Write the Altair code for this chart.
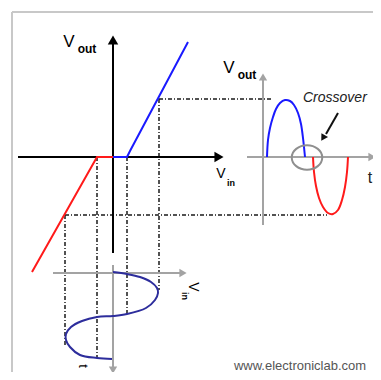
import altair as alt
import pandas as pd

# ---------------- data (diagram coordinates, y grows downward) ----------------
# outer frame
frame_x = [12, 12]
frame_y = [12, 12]
frame_x2 = [381, 12]
frame_y2 = [12, 380]

# transfer characteristic axes (black)
tax_x = [18, 113]
tax_y = [157, 253]
tax_x2 = [216, 113]
tax_y2 = [157, 44]

# input-sine axes and output-wave axes (gray)
gax_x = [53, 113, 247, 263]
gax_y = [273, 265, 157, 225]
gax_x2 = [182, 113, 370, 263]
gax_y2 = [273, 368, 157, 80]

# arrow heads
black_head_x = [113, 219]
black_head_y = [40, 157]
black_head_dir = ["up", "right"]
gray_head_x = [183, 113, 372, 263]
gray_head_y = [273, 370, 157, 77]
gray_head_dir = ["right", "down", "right", "up"]

# projection lines (dash-dot)
proj_x = [65, 97, 127, 159, 159, 65]
proj_y = [215, 157, 157, 99, 99, 215]
proj_x2 = [65, 97, 127, 159, 273, 327]
proj_y2 = [345, 357, 315, 290, 99, 215]

# transfer curve: upper (blue) and lower (red) transistor
tr_blue_x = [113, 127, 130, 188]
tr_blue_y = [157, 157, 151, 42]
tr_red_x = [113, 97, 32]
tr_red_y = [157, 157, 272]

# input sine (time runs downward)
sin_x = [113, 127, 140, 151, 157, 158, 155, 146, 127, 113, 97, 82, 71, 66, 66, 70, 80, 97, 112]
sin_y = [272, 274, 277, 282, 288, 293, 300, 308, 314, 316, 317, 321, 327, 334, 340, 347, 355, 358, 359]

# output half waves
out_blue_x = [267, 268, 270, 273, 276, 280, 285, 290, 294, 298, 301, 303, 305]
out_blue_y = [157, 140, 128, 117, 109, 103, 100, 101, 105, 113, 124, 138, 157]
out_red_x = [313, 314, 316, 319, 323, 328, 333, 338, 342, 345, 347, 348]
out_red_y = [157, 172, 186, 198, 207, 213, 214, 210, 200, 187, 172, 157]

# crossover marker
circle_x = [307]
circle_y = [157.5]
pointer_x = [338, 326]
pointer_y = [113, 134]
pointer_head_x = [323]
pointer_head_y = [138]

# labels
big_v_text = ["V", "V"]
big_v_x = [69, 229]
big_v_y = [42, 68]
sub_out_text = ["out", "out"]
sub_out_x = [87, 247]
sub_out_y = [49, 75]
vin_v_x = [221]
vin_v_y = [174]
vin_sub_x = [231]
vin_sub_y = [183]
rot_v_x = [193]
rot_v_y = [287]
rot_sub_x = [185]
rot_sub_y = [296]
t_text = ["t"]
t_x = [370]
t_y = [178]
rot_t_x = [83]
rot_t_y = [366]
cross_text = ["Crossover"]
cross_x = [303]
cross_y = [98]
site_text = ["www.electroniclab.com"]
site_x = [300]
site_y = [366]

# ---------------- chart ----------------
W, H = 365, 364
xs = alt.Scale(domain=[8, 8 + W], nice=False, zero=False)
ys = alt.Scale(domain=[8, 8 + H], nice=False, zero=False, reverse=True)
X = alt.X("x:Q", scale=xs, axis=None)
Y = alt.Y("y:Q", scale=ys, axis=None)
X2 = alt.X2("x2:Q")
Y2 = alt.Y2("y2:Q")

dir_scale = alt.Scale(domain=["up", "right", "down"],
                      range=["triangle-up", "triangle-right", "triangle-down"])


def seg(xa, ya, xb, yb):
    return pd.DataFrame({"x": xa, "y": ya, "x2": xb, "y2": yb})


def pts(xa, ya, **extra):
    d = {"x": xa, "y": ya, "i": list(range(len(xa)))}
    d.update(extra)
    return pd.DataFrame(d)


frame = alt.Chart(seg(frame_x, frame_y, frame_x2, frame_y2)).mark_rule(
    color="#c8c8c8", strokeWidth=2).encode(x=X, y=Y, x2=X2, y2=Y2)

proj = alt.Chart(seg(proj_x, proj_y, proj_x2, proj_y2)).mark_rule(
    color="#1a1a1a", strokeWidth=1.5, strokeDash=[4, 2, 1, 2]).encode(x=X, y=Y, x2=X2, y2=Y2)

gaxes = alt.Chart(seg(gax_x, gax_y, gax_x2, gax_y2)).mark_rule(
    color="#a3a3a3", strokeWidth=2).encode(x=X, y=Y, x2=X2, y2=Y2)

taxes = alt.Chart(seg(tax_x, tax_y, tax_x2, tax_y2)).mark_rule(
    color="#000000", strokeWidth=2).encode(x=X, y=Y, x2=X2, y2=Y2)

bheads = alt.Chart(pts(black_head_x, black_head_y, d=black_head_dir)).mark_point(
    filled=True, color="#000000", size=110, opacity=1).encode(
    x=X, y=Y, shape=alt.Shape("d:N", scale=dir_scale, legend=None))

gheads = alt.Chart(pts(gray_head_x, gray_head_y, d=gray_head_dir)).mark_point(
    filled=True, color="#a3a3a3", size=70, opacity=1).encode(
    x=X, y=Y, shape=alt.Shape("d:N", scale=dir_scale, legend=None))


def straight(xa, ya, col):
    return alt.Chart(pts(xa, ya)).mark_line(color=col, strokeWidth=2).encode(
        x=X, y=Y, order="i:Q")


def smooth(xa, ya, col, interp):
    return alt.Chart(pts(xa, ya)).mark_line(color=col, strokeWidth=2, interpolate=interp).encode(
        x=X, y=Y, order="i:Q")


trb = straight(tr_blue_x, tr_blue_y, "#1a1aff")
trr = straight(tr_red_x, tr_red_y, "#ff1a1a")
sine = smooth(sin_x, sin_y, "#2d2d9c", "catmull-rom")
ob = smooth(out_blue_x, out_blue_y, "#1a1aff", "catmull-rom")
orr = smooth(out_red_x, out_red_y, "#ff1a1a", "catmull-rom")

circ = alt.Chart(pts(circle_x, circle_y)).mark_point(
    shape="M -1 0 A 1 0.8 0 1 1 1 0 A 1 0.8 0 1 1 -1 0 Z",
    size=930, color="#8f8f8f", strokeWidth=2, filled=False, opacity=1).encode(x=X, y=Y)

pointer = straight(pointer_x, pointer_y, "#111111")
phead = alt.Chart(pts(pointer_head_x, pointer_head_y)).mark_point(
    shape="triangle-up", filled=True, color="#111111", size=60, angle=211, opacity=1).encode(x=X, y=Y)


def label(xa, ya, texts, **kw):
    return alt.Chart(pts(xa, ya, t=texts)).mark_text(
        font="Liberation Sans", baseline="middle", **kw).encode(x=X, y=Y, text="t:N")


lab_v = label(big_v_x, big_v_y, big_v_text, fontSize=17, align="center", color="#000")
lab_out = label(sub_out_x, sub_out_y, sub_out_text, fontSize=12, fontWeight="bold", align="center", color="#000")
lab_vin_v = label(vin_v_x, vin_v_y, ["V"], fontSize=14, align="center", color="#000")
lab_vin_s = label(vin_sub_x, vin_sub_y, ["in"], fontSize=9, fontWeight="bold", align="center", color="#000")
lab_rv = label(rot_v_x, rot_v_y, ["V"], fontSize=14, align="center", angle=90, color="#000")
lab_rs = label(rot_sub_x, rot_sub_y, ["in"], fontSize=9, fontWeight="bold", align="center", angle=90, color="#000")
lab_t = label(t_x, t_y, t_text, fontSize=16, align="center", color="#222")
lab_rt = label(rot_t_x, rot_t_y, t_text, fontSize=13, align="center", angle=90, color="#000")
lab_cross = label(cross_x, cross_y, cross_text, fontSize=14, fontStyle="italic", align="left", color="#222")
lab_site = label(site_x, site_y, site_text, fontSize=13, align="center", color="#555")

chart = alt.layer(
    frame, proj, gaxes, taxes, bheads, gheads,
    trb, trr, sine, ob, orr, circ, pointer, phead,
    lab_v, lab_out, lab_vin_v, lab_vin_s, lab_rv, lab_rs, lab_t, lab_rt, lab_cross, lab_site,
).properties(
    width=W, height=H, padding=0, autosize=alt.AutoSizeParams(type="none"),
    background="#ffffff",
).configure_view(stroke=None)

chart.save("out.html", embed_options={"renderer": "svg", "actions": False})
